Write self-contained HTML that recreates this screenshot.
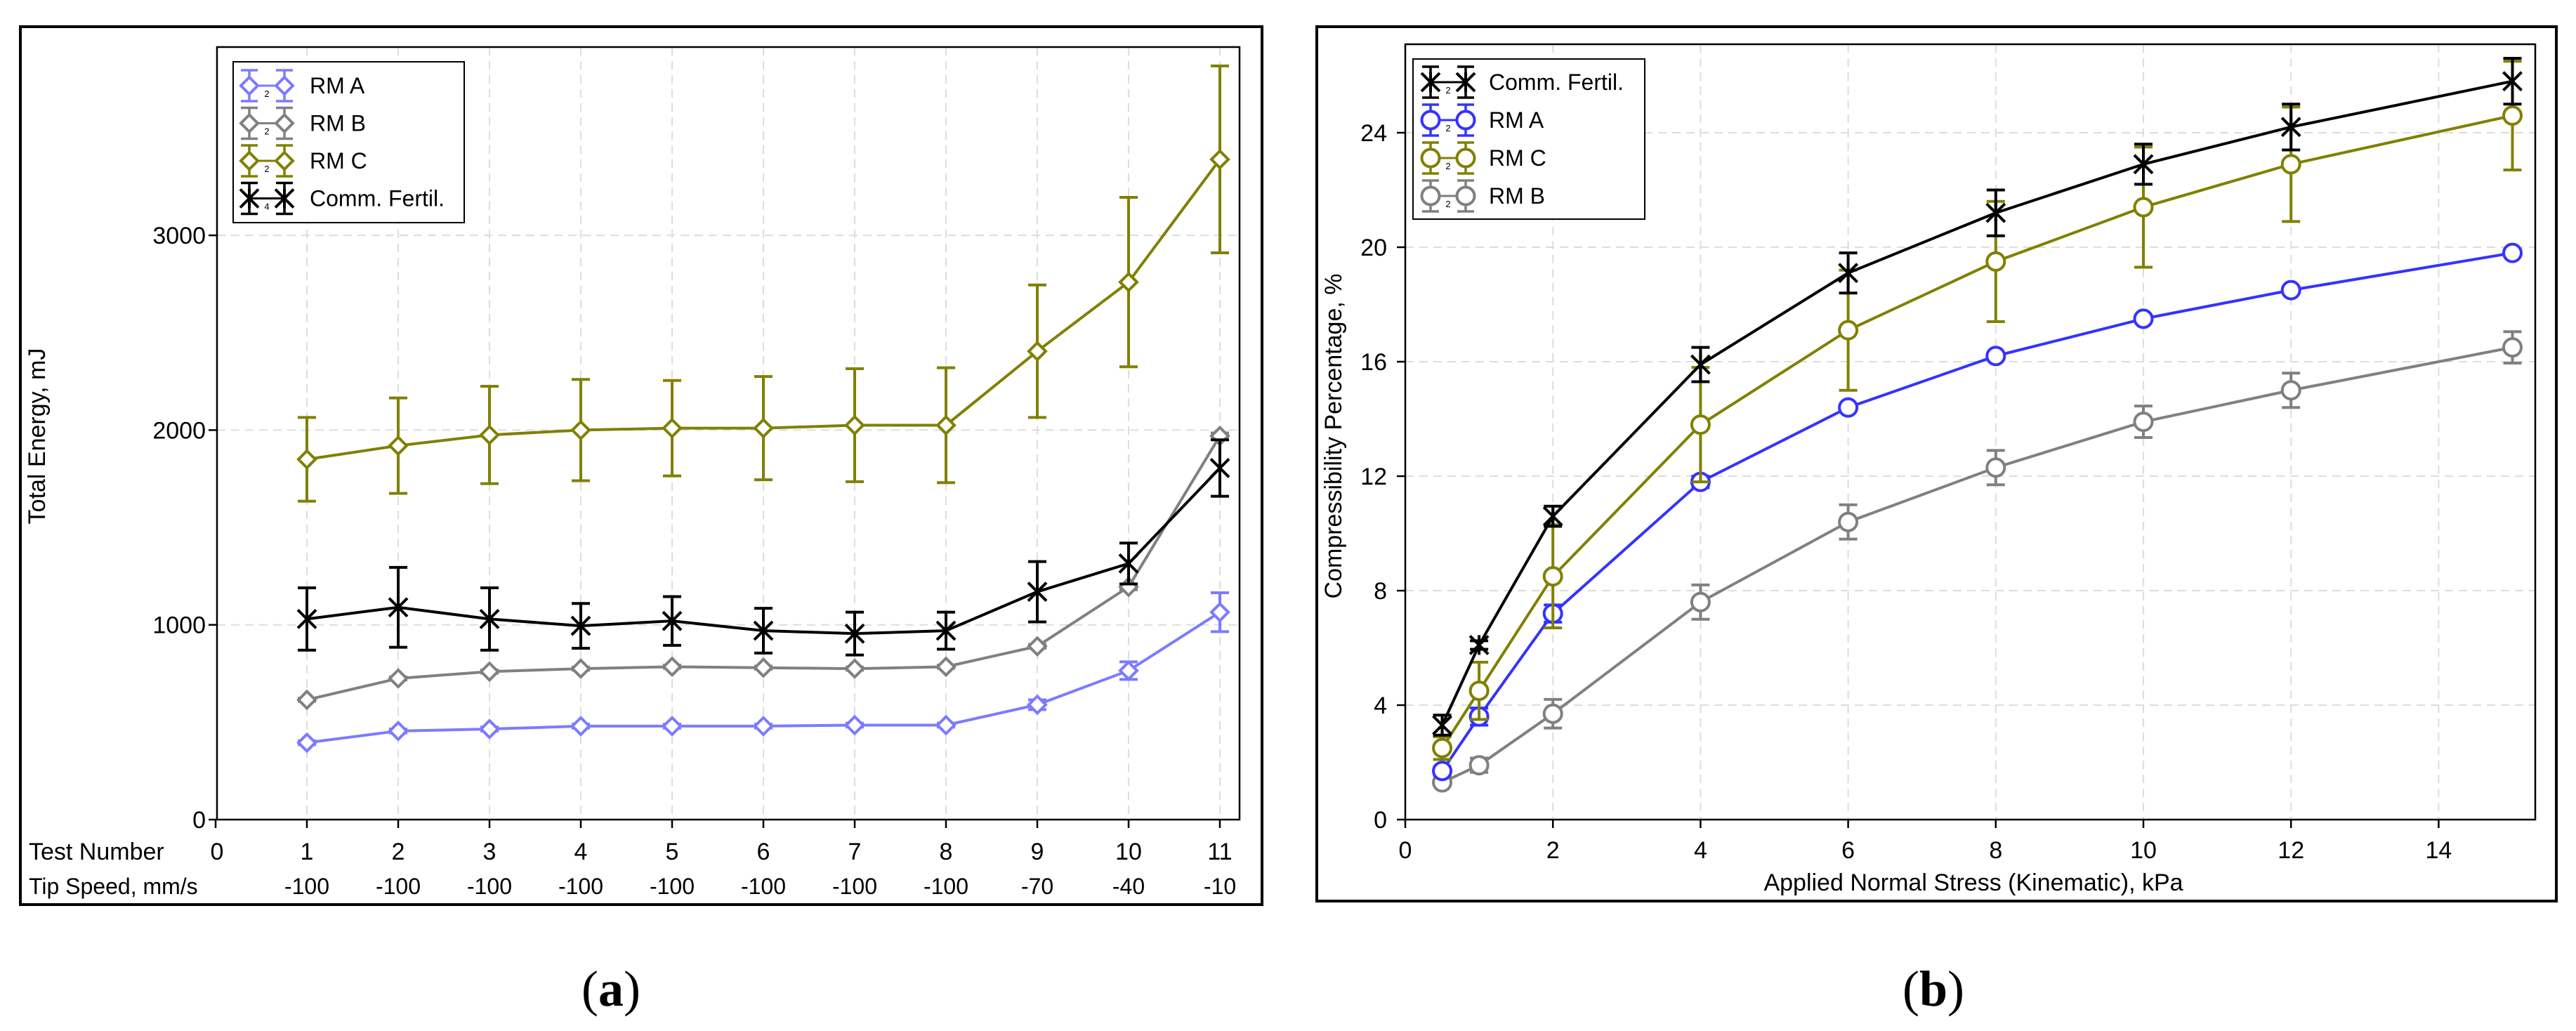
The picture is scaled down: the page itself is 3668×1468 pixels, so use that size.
<!DOCTYPE html>
<html><head><meta charset="utf-8"><style>
html,body{margin:0;padding:0;background:#fff;}
svg{display:block;font-family:"Liberation Sans",sans-serif;}
</style></head><body>
<svg id="fig" width="3668" height="1468" viewBox="0 0 3668 1468" xmlns="http://www.w3.org/2000/svg">
<rect x="0" y="0" width="3668" height="1468" fill="#fff"/>
<g id="panelA"></g>
<g id="panelB"></g>
<text x="870" y="1432" font-family="Liberation Serif,serif" font-size="72" text-anchor="middle">(<tspan font-weight="bold">a</tspan>)</text>
<text x="2753" y="1432" font-family="Liberation Serif,serif" font-size="72" text-anchor="middle">(<tspan font-weight="bold">b</tspan>)</text>
</svg>
<script>
// ---- Panel A data ----
const aTests = [1,2,3,4,5,6,7,8,9,10,11];
const aSpeeds = ["-100","-100","-100","-100","-100","-100","-100","-100","-70","-40","-10"];
const aYTicks = [0,1000,2000,3000];
const aRMA = [395,455,465,480,480,480,485,485,590,765,1065];
const aRMAErr = [10,10,10,10,10,10,10,10,25,45,100];
const aRMB = [615,725,760,775,785,780,775,785,890,1195,1970];
const aRMBErr = [8,8,8,8,8,8,8,8,10,15,15];
const aRMC = [1850,1920,1975,2000,2010,2010,2025,2025,2405,2760,3390];
const aRMCErr = [215,245,250,260,245,265,290,295,340,435,480];
const aComm = [1030,1090,1030,995,1020,970,955,970,1170,1315,1805];
const aCommErr = [160,205,160,115,125,115,110,95,155,105,145];
// ---- Panel B data ----
const bStress = [0.5,1,2,4,6,8,10,12,15];
const bXTicks = [0,2,4,6,8,10,12,14];
const bYTicks = [0,4,8,12,16,20,24];
const bComm = [3.3,6.1,10.6,15.9,19.1,21.2,22.9,24.2,25.8];
const bCommErr = [0.35,0.15,0.35,0.6,0.7,0.8,0.7,0.8,0.8];
const bRMA = [1.7,3.6,7.2,11.8,14.4,16.2,17.5,18.5,19.8];
const bRMAErr = [0.15,0.3,0.3,0.2,0.1,0.1,0.1,0.1,0.1];
const bRMC = [2.5,4.5,8.5,13.8,17.1,19.5,21.4,22.9,24.6];
const bRMCErr = [0.4,1.0,1.8,2.0,2.1,2.1,2.1,2.0,1.9];
const bRMB = [1.3,1.9,3.7,7.6,10.4,12.3,13.9,15.0,16.5];
const bRMBErr = [0.1,0.25,0.5,0.6,0.6,0.6,0.55,0.6,0.55];

const NS="http://www.w3.org/2000/svg";
function mk(parent,tag,attrs,text){const e=document.createElementNS(NS,tag);for(const k in attrs)e.setAttribute(k,attrs[k]);if(text!==undefined)e.textContent=text;parent.appendChild(e);return e;}
function marker(g,type,x,y,color){
  let m;
  if(type==='diamond'){m=mk(g,'polygon',{points:`${x},${y-12} ${x+12},${y} ${x},${y+12} ${x-12},${y}`,fill:'#fff',stroke:color,'stroke-width':4});}
  else if(type==='circle'){m=mk(g,'circle',{cx:x,cy:y,r:12.5,fill:'#fff',stroke:color,'stroke-width':4});}
  else {m=mk(g,'path',{d:`M${x-13},${y-13}L${x+13},${y+13}M${x-13},${y+13}L${x+13},${y-13}M${x},${y-14}L${x},${y+14}`,fill:'none',stroke:color,'stroke-width':4});}
  return m;
}
function series(g,name,xs,ys,errs,X,Y,color,type){
  const sg=mk(g,'g',{});
  
  
  for(let i=0;i<xs.length;i++){
    const x=X(xs[i]),y1=Y(ys[i]+errs[i]),y2=Y(ys[i]-errs[i]);
    const eb=mk(sg,'path',{d:`M${x},${y1}L${x},${y2}M${x-13},${y1}L${x+13},${y1}M${x-13},${y2}L${x+13},${y2}`,stroke:color,'stroke-width':4,fill:'none'});
    
    
  }
  const pts=xs.map((v,i)=>X(v)+','+Y(ys[i])).join(' ');
  const ln=mk(sg,'polyline',{points:pts,fill:'none',stroke:color,'stroke-width':4});
  
  
  for(let i=0;i<xs.length;i++){
    const m=marker(sg,type,X(xs[i]),Y(ys[i]),color);
    
    
  }
}
function legend(g,x,y,w,h,entries,tx,gx,y0,dy){
  const lg=mk(g,'g',{});
  
  
  mk(lg,'rect',{x:x,y:y,width:w,height:h,fill:'#fff',stroke:'#000','stroke-width':2});
  entries.forEach((e,i)=>{
    const cy=y0+i*dy;
    const eg=mk(lg,'g',{});
    
    
    mk(eg,'line',{x1:gx,y1:cy,x2:gx+50,y2:cy,stroke:e.c,'stroke-width':3});
    [gx,gx+50].forEach(px=>{
      mk(eg,'path',{d:`M${px},${cy-22}L${px},${cy+22}M${px-12},${cy-22}L${px+12},${cy-22}M${px-12},${cy+22}L${px+12},${cy+22}`,stroke:e.c,'stroke-width':3.5,fill:'none'});
      marker(eg,e.t,px,cy,e.c);
    });
    mk(eg,'text',{x:gx+25,y:cy+16,'font-size':13,'text-anchor':'middle',fill:'#000'},e.n);
    mk(eg,'text',{x:tx,y:cy+11,'font-size':32,fill:'#000'},e.l);
  });
}

// ---- Panel A ----
(function(){
  const g=document.getElementById('panelA');
  const L=309,R=1765,T=67,B=1167;
  const X=v=>307+v*130.0, Y=v=>B-v*0.2773;
  mk(g,'rect',{x:29,y:38,width:1768,height:1250,fill:'none',stroke:'#000','stroke-width':4});
  aTests.forEach(t=>mk(g,'line',{x1:X(t),y1:T,x2:X(t),y2:B,stroke:'#ddd','stroke-width':2,'stroke-dasharray':'12,8'}));
  aYTicks.slice(1).forEach(v=>mk(g,'line',{x1:L,y1:Y(v),x2:R,y2:Y(v),stroke:'#ddd','stroke-width':2,'stroke-dasharray':'12,8'}));
  mk(g,'rect',{x:L,y:T,width:R-L,height:B-T,fill:'none',stroke:'#000','stroke-width':2.5});
  aYTicks.forEach(v=>{mk(g,'line',{x1:L-12,y1:Y(v),x2:L,y2:Y(v),stroke:'#000','stroke-width':2.5});
    const t=mk(g,'text',{x:L-16,y:Y(v)+12,'font-size':34,'text-anchor':'end'},String(v));
    });
  [0].concat(aTests).forEach(v=>{mk(g,'line',{x1:X(v),y1:B,x2:X(v),y2:B+12,stroke:'#000','stroke-width':2.5});
    const t=mk(g,'text',{x:X(v)+(v===0?2:0),y:1224,'font-size':34,'text-anchor':'middle'},String(v));
    });
  aSpeeds.forEach((s,i)=>{const t=mk(g,'text',{x:X(aTests[i]),y:1273,'font-size':32,'text-anchor':'middle'},s);
    });
  const t1=mk(g,'text',{x:41,y:1224,'font-size':34},'Test Number');
  
  const t2=mk(g,'text',{x:41,y:1273,'font-size':32},'Tip Speed, mm/s');
  
  const yt=mk(g,'text',{x:0,y:0,'font-size':34,'text-anchor':'middle',transform:'translate(64,621) rotate(-90)'},'Total Energy, mJ');
  
  series(g,'rm-c',aTests,aRMC,aRMCErr,X,Y,'#808000','diamond');
  series(g,'rm-b',aTests,aRMB,aRMBErr,X,Y,'#808080','diamond');
  series(g,'rm-a',aTests,aRMA,aRMAErr,X,Y,'#7b7bff','diamond');
  series(g,'comm-fertil',aTests,aComm,aCommErr,X,Y,'#000','star');
  legend(g,332,88,329,229,[
    {l:'RM A',c:'#7b7bff',t:'diamond',n:'2'},
    {l:'RM B',c:'#808080',t:'diamond',n:'2'},
    {l:'RM C',c:'#808000',t:'diamond',n:'2'},
    {l:'Comm. Fertil.',c:'#000',t:'star',n:'4'}],441,355,122,53.5);
})();

// ---- Panel B ----
(function(){
  const g=document.getElementById('panelB');
  const L=2001,R=3610,T=63,B=1167;
  const X=v=>L+v*105.1, Y=v=>B-v*40.75;
  mk(g,'rect',{x:1875,y:38,width:1765,height:1245,fill:'none',stroke:'#000','stroke-width':4});
  bXTicks.slice(1).forEach(v=>mk(g,'line',{x1:X(v),y1:T,x2:X(v),y2:B,stroke:'#ddd','stroke-width':2,'stroke-dasharray':'12,8'}));
  bYTicks.slice(1).forEach(v=>mk(g,'line',{x1:L,y1:Y(v),x2:R,y2:Y(v),stroke:'#ddd','stroke-width':2,'stroke-dasharray':'12,8'}));
  mk(g,'rect',{x:L,y:T,width:R-L,height:B-T,fill:'none',stroke:'#000','stroke-width':2.5});
  bYTicks.forEach(v=>{mk(g,'line',{x1:L-12,y1:Y(v),x2:L,y2:Y(v),stroke:'#000','stroke-width':2.5});
    const t=mk(g,'text',{x:L-26,y:Y(v)+12,'font-size':34,'text-anchor':'end'},String(v));
    });
  bXTicks.forEach(v=>{mk(g,'line',{x1:X(v),y1:B,x2:X(v),y2:B+12,stroke:'#000','stroke-width':2.5});
    const t=mk(g,'text',{x:X(v),y:1222,'font-size':34,'text-anchor':'middle'},String(v));
    });
  const xt=mk(g,'text',{x:2810,y:1268,'font-size':34,'text-anchor':'middle'},'Applied Normal Stress (Kinematic), kPa');
  
  const yt=mk(g,'text',{x:0,y:0,'font-size':34,'text-anchor':'middle',transform:'translate(1910,621) rotate(-90)'},'Compressibility Percentage, %');
  
  series(g,'rm-b',bStress,bRMB,bRMBErr,X,Y,'#808080','circle');
  series(g,'rm-a',bStress,bRMA,bRMAErr,X,Y,'#3333ff','circle');
  series(g,'rm-c',bStress,bRMC,bRMCErr,X,Y,'#808000','circle');
  series(g,'comm-fertil',bStress,bComm,bCommErr,X,Y,'#000','star');
  legend(g,2012,84,330,228,[
    {l:'Comm. Fertil.',c:'#000',t:'star',n:'2'},
    {l:'RM A',c:'#3333ff',t:'circle',n:'2'},
    {l:'RM C',c:'#808000',t:'circle',n:'2'},
    {l:'RM B',c:'#808080',t:'circle',n:'2'}],2120,2037,117,54);
})();
</script>
</body></html>
